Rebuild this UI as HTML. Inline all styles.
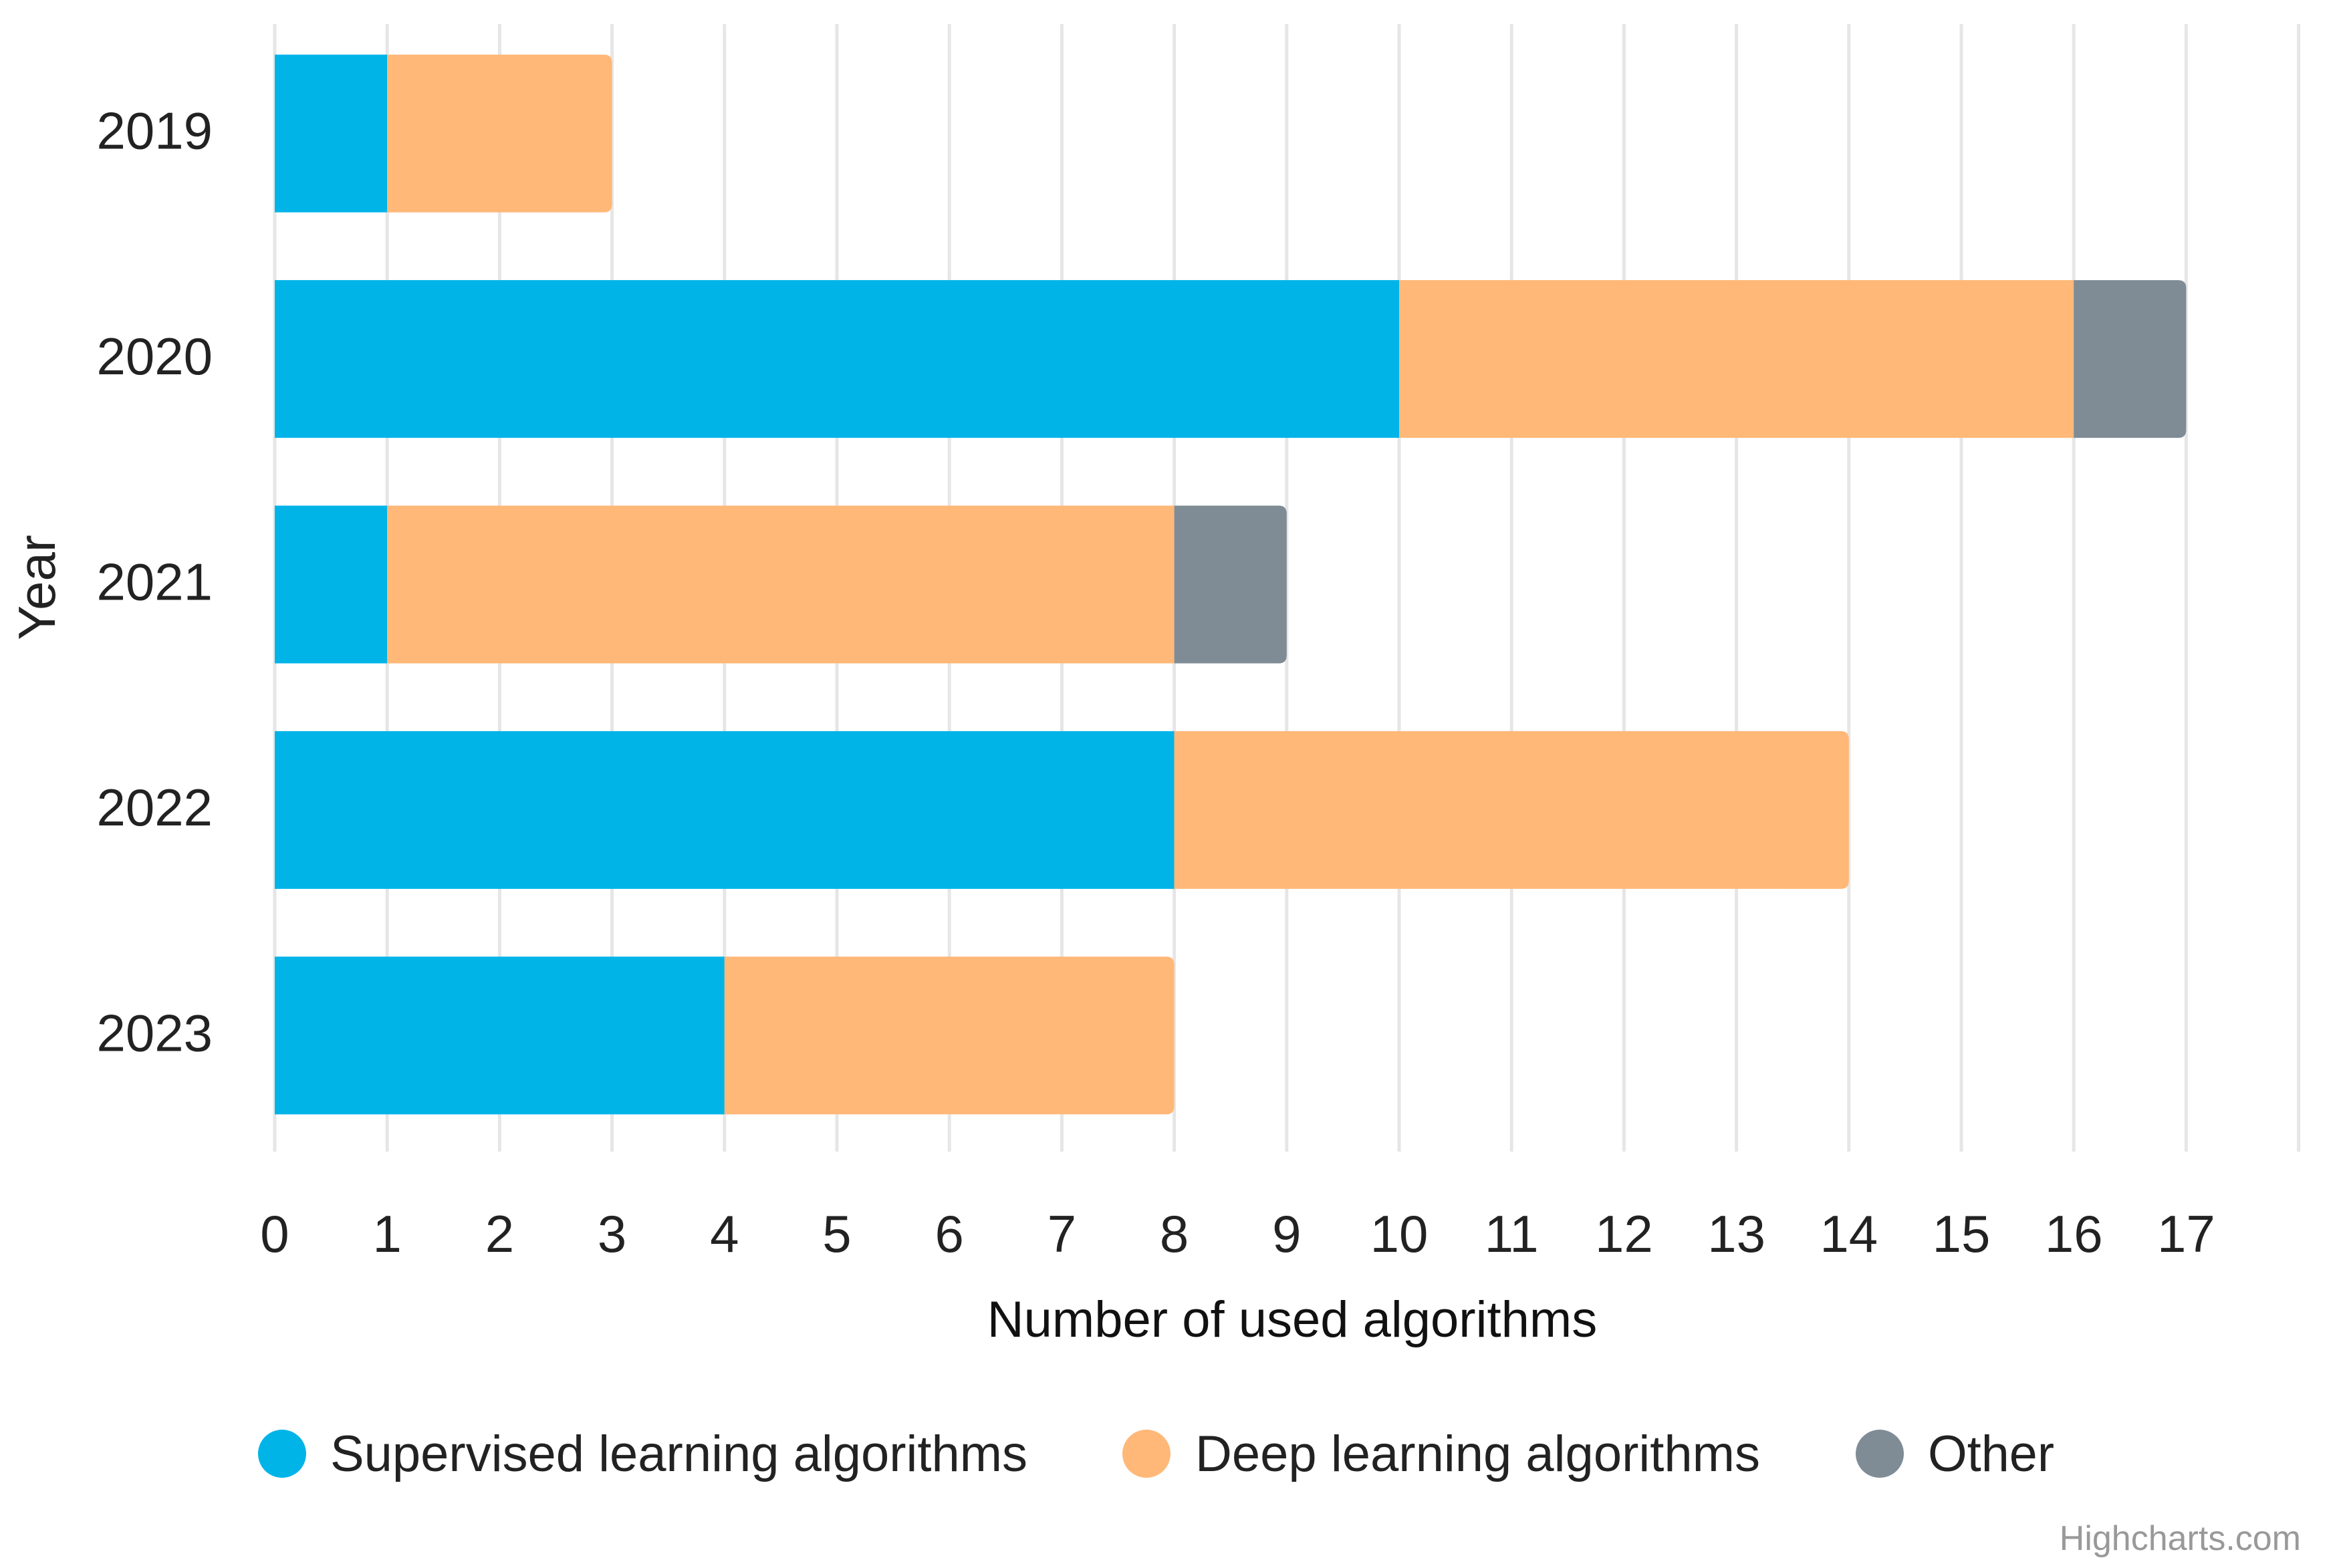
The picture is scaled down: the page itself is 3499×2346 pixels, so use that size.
<!DOCTYPE html>
<html><head><meta charset="utf-8"><style>
html,body{margin:0;padding:0;background:#fff;}
svg{display:block;font-family:"Liberation Sans",Arial,sans-serif;}
</style></head><body>
<svg id="chart" width="3499" height="2346" viewBox="0 0 3499 2346" xmlns="http://www.w3.org/2000/svg">
<rect width="3499" height="2346" fill="#fff"/>
<g id="grid"></g>
<g id="bars"></g>
<g id="ylabels"></g>
<g id="xlabels"></g>
<text x="0" y="0" transform="translate(82,879) rotate(-90)" text-anchor="middle" font-size="78" fill="#222">Year</text>
<text x="1933" y="2000" text-anchor="middle" font-size="76" fill="#111">Number of used algorithms</text>
<g>
<g>
<circle cx="422" cy="2175" r="36" fill="#00b4e8"/>
<text x="494" y="2201" font-size="76" fill="#222" textLength="1043" lengthAdjust="spacingAndGlyphs">Supervised learning algorithms</text></g>
<g>
<circle cx="1715" cy="2175" r="36" fill="#ffb878"/>
<text x="1788" y="2201" font-size="76" fill="#222" textLength="845" lengthAdjust="spacingAndGlyphs">Deep learning algorithms</text></g>
<g>
<circle cx="2812" cy="2175" r="36" fill="#7f8c96"/>
<text x="2884" y="2201" font-size="76" fill="#222" textLength="189" lengthAdjust="spacingAndGlyphs">Other</text></g>
</g>
<text x="3442" y="2319" text-anchor="end" font-size="52" fill="#999">Highcharts.com</text>
</svg>
<script>
const categories = ["2019","2020","2021","2022","2023"];
const supervised = [1,10,1,8,4];
const deep = [2,6,7,6,4];
const other = [0,1,1,0,0];
const xTicks = [0,1,2,3,4,5,6,7,8,9,10,11,12,13,14,15,16,17];
const seriesNames = ["supervised","deep-learning","other"];
const seriesColors = ["#00b4e8","#ffb878","#7f8c96"];

const NS="http://www.w3.org/2000/svg";
const x0=411, unit=168.2, plotTop=31, plotBottom=1718;
const xs=v=>x0+v*unit;
const band=(plotBottom-plotTop)/categories.length;
const yc=i=>plotTop+(i+0.5)*band;
const barH=236;
function mk(tag,attrs,parent){const e=document.createElementNS(NS,tag);for(const k in attrs)e.setAttribute(k,attrs[k]);parent.appendChild(e);return e;}
const grid=document.getElementById('grid');
for(let v=0;v<=18;v++){
  const l=mk('line',{x1:xs(v),x2:xs(v),y1:36,y2:1723,stroke:'#e6e6e6','stroke-width':5},grid);
  
  
}
const xl=document.getElementById('xlabels');
xTicks.forEach(v=>{
  const t=mk('text',{x:xs(v),y:1873,'text-anchor':'middle','font-size':78,fill:'#222'},xl);
  
  
  t.textContent=v;
});
const yl=document.getElementById('ylabels');
const bars=document.getElementById('bars');
const series=[supervised,deep,other];
categories.forEach((c,i)=>{
  const t=mk('text',{x:318,y:yc(i)+23,'text-anchor':'end','font-size':78,fill:'#222'},yl);
  
  
  t.textContent=c;
  let acc=0;
  let lastIdx=-1;
  series.forEach((s,k)=>{if(s[i]>0)lastIdx=k;});
  series.forEach((s,k)=>{
    const v=s[i];
    if(v<=0)return;
    const xa=xs(acc), xb=xs(acc+v), y=yc(i)-barH/2;
    let el;
    if(k===lastIdx){
      const r=12;
      const d=`M${xa},${y} H${xb-r} Q${xb},${y} ${xb},${y+r} V${y+barH-r} Q${xb},${y+barH} ${xb-r},${y+barH} H${xa} Z`;
      el=mk('path',{d:d,fill:seriesColors[k]},bars);
    } else {
      el=mk('rect',{x:xa,y:y,width:xb-xa,height:barH,fill:seriesColors[k]},bars);
    }
    
    
    acc+=v;
  });
});
</script>
</body></html>
